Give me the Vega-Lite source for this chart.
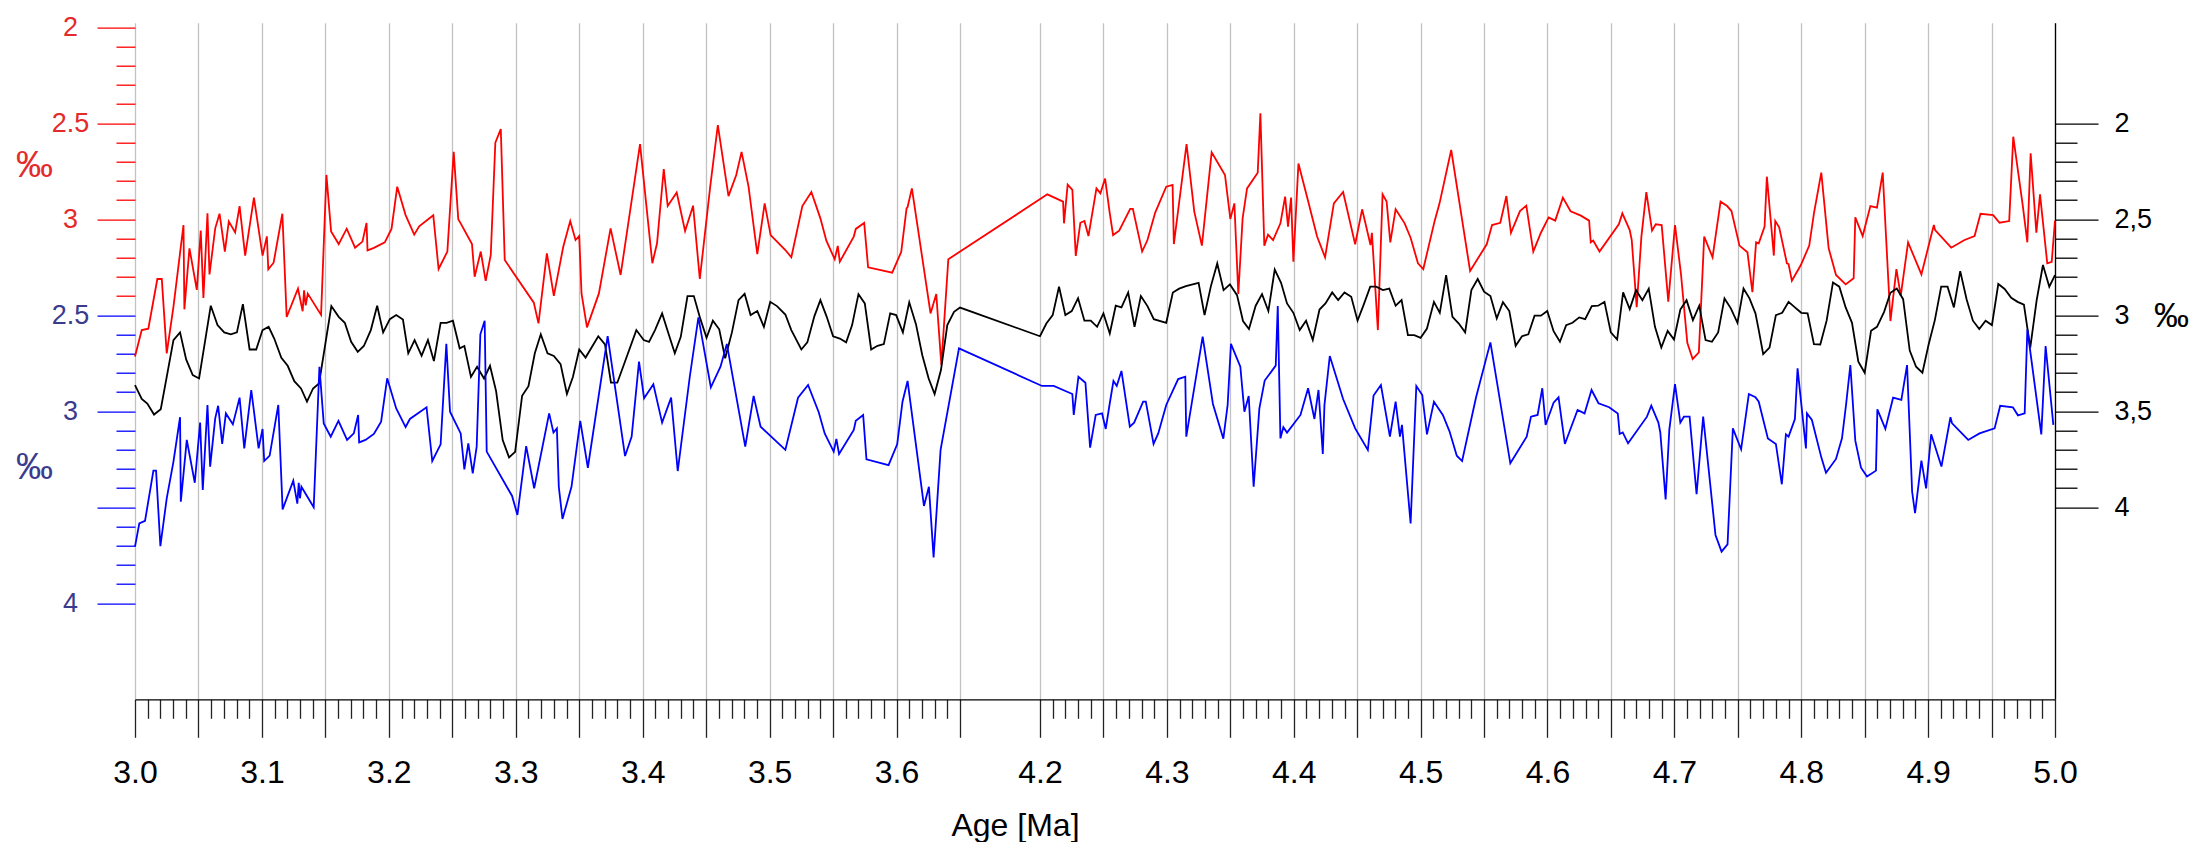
{
"$schema": "https://vega.github.io/schema/vega-lite/v6.json",
"width": 1920,
"height": 676.6,
"autosize": "none",
"padding": {"left": 135, "top": 22.7, "right": 142, "bottom": 142.7},
"background": "white",
"config": {"font": "Liberation Sans", "view": {"stroke": null}},
"datasets": {
"red": [
{"age":3.0000,"v":3.715},{"age":3.0053,"v":3.577},{"age":3.0105,"v":3.570},{"age":3.0176,"v":3.311},{"age":3.0211,"v":3.311},{"age":3.0250,"v":3.698},{"age":3.0303,"v":3.455},{"age":3.0382,"v":3.030},{"age":3.0389,"v":3.469},{"age":3.0429,"v":3.151},{"age":3.0487,"v":3.368},{"age":3.0518,"v":3.059},{"age":3.0539,"v":3.410},{"age":3.0571,"v":2.969},{"age":3.0587,"v":3.287},{"age":3.0632,"v":3.047},{"age":3.0666,"v":2.971},{"age":3.0708,"v":3.168},{"age":3.0739,"v":3.011},{"age":3.0789,"v":3.068},{"age":3.0824,"v":2.931},{"age":3.0868,"v":3.189},{"age":3.0937,"v":2.887},{"age":3.1005,"v":3.189},{"age":3.1039,"v":3.089},{"age":3.1050,"v":3.261},{"age":3.1092,"v":3.226},{"age":3.1161,"v":2.971},{"age":3.1195,"v":3.509},{"age":3.1284,"v":3.361},{"age":3.1321,"v":3.479},{"age":3.1332,"v":3.370},{"age":3.1345,"v":3.448},{"age":3.1361,"v":3.387},{"age":3.1466,"v":3.498},{"age":3.1508,"v":2.769},{"age":3.1545,"v":3.063},{"age":3.1605,"v":3.129},{"age":3.1668,"v":3.049},{"age":3.1734,"v":3.148},{"age":3.1792,"v":3.116},{"age":3.1824,"v":3.019},{"age":3.1832,"v":3.162},{"age":3.1882,"v":3.149},{"age":3.1968,"v":3.120},{"age":3.2021,"v":3.050},{"age":3.2066,"v":2.830},{"age":3.2132,"v":2.978},{"age":3.2200,"v":3.080},{"age":3.2239,"v":3.037},{"age":3.2350,"v":2.979},{"age":3.2392,"v":3.259},{"age":3.2461,"v":3.168},{"age":3.2511,"v":2.649},{"age":3.2547,"v":3.000},{"age":3.2566,"v":3.021},
{"age":3.2655,"v":3.129},{"age":3.2676,"v":3.299},{"age":3.2724,"v":3.168},{"age":3.2763,"v":3.321},{"age":3.2803,"v":3.186},{"age":3.2839,"v":2.601},{"age":3.2882,"v":2.530},{"age":3.2913,"v":3.212},{"age":3.3142,"v":3.434},{"age":3.3179,"v":3.542},{"age":3.3245,"v":3.177},{"age":3.3300,"v":3.399},{"age":3.3374,"v":3.143},{"age":3.3429,"v":3.009},{"age":3.3471,"v":3.108},{"age":3.3500,"v":3.087},{"age":3.3518,"v":3.386},{"age":3.3561,"v":3.563},{"age":3.3655,"v":3.386},{"age":3.3747,"v":3.047},{"age":3.3826,"v":3.290},{"age":3.3979,"v":2.608},{"age":3.4076,"v":3.229},{"age":3.4113,"v":3.125},{"age":3.4166,"v":2.738},{"age":3.4197,"v":2.931},{"age":3.4268,"v":2.861},{"age":3.4334,"v":3.061},{"age":3.4397,"v":2.929},{"age":3.4450,"v":3.311},{"age":3.4532,"v":2.830},{"age":3.4592,"v":2.509},{"age":3.4676,"v":2.879},{"age":3.4737,"v":2.769},{"age":3.4779,"v":2.649},{"age":3.4834,"v":2.830},{"age":3.4903,"v":3.181},{"age":3.4961,"v":2.917},{"age":3.5008,"v":3.082},{"age":3.5124,"v":3.160},
{"age":3.5171,"v":3.198},{"age":3.5258,"v":2.931},{"age":3.5329,"v":2.858},{"age":3.5400,"v":2.995},{"age":3.5447,"v":3.111},{"age":3.5513,"v":3.208},{"age":3.5537,"v":3.139},{"age":3.5553,"v":3.221},{"age":3.5663,"v":3.090},{"age":3.5679,"v":3.050},{"age":3.5745,"v":3.019},{"age":3.5776,"v":3.250},{"age":3.5966,"v":3.278},{"age":3.6037,"v":3.170},{"age":3.6079,"v":2.943},{"age":3.6087,"v":2.936},{"age":3.6121,"v":2.839},{"age":3.6268,"v":3.490},{"age":3.6313,"v":3.389},{"age":3.6353,"v":3.759},{"age":3.6408,"v":3.208},{"age":4.2058,"v":2.870},{"age":4.2182,"v":2.908},{"age":4.2189,"v":3.021},{"age":4.2218,"v":2.820},{"age":4.2255,"v":2.847},{"age":4.2282,"v":3.191},{"age":4.2318,"v":3.018},{"age":4.2350,"v":3.009},{"age":4.2382,"v":3.087},{"age":4.2445,"v":2.839},{"age":4.2476,"v":2.865},{"age":4.2513,"v":2.788},{"age":4.2550,"v":2.969},
{"age":4.2576,"v":3.082},{"age":4.2624,"v":3.059},{"age":4.2711,"v":2.946},{"age":4.2732,"v":2.946},{"age":4.2805,"v":3.168},{"age":4.2847,"v":3.108},{"age":4.2908,"v":2.965},{"age":4.2995,"v":2.830},{"age":4.3045,"v":2.821},{"age":4.3055,"v":3.129},{"age":4.3155,"v":2.608},{"age":4.3216,"v":2.960},{"age":4.3276,"v":3.137},{"age":4.3353,"v":2.651},{"age":4.3458,"v":2.769},{"age":4.3500,"v":2.998},{"age":4.3532,"v":2.917},{"age":4.3563,"v":3.389},{"age":4.3597,"v":2.995},{"age":4.3632,"v":2.839},{"age":4.3716,"v":2.757},{"age":4.3737,"v":2.448},{"age":4.3768,"v":3.137},{"age":4.3797,"v":3.080},{"age":4.3837,"v":3.108},{"age":4.3895,"v":3.021},{"age":4.3932,"v":2.882},{"age":4.3955,"v":3.038},{"age":4.3979,"v":2.887},{"age":4.3997,"v":3.221},{"age":4.4037,"v":2.709},{"age":4.4111,"v":2.899},{"age":4.4184,"v":3.090},{"age":4.4247,"v":3.198},{"age":4.4316,"v":2.917},{"age":4.4389,"v":2.858},{"age":4.4484,"v":3.130},{"age":4.4539,"v":2.948},{"age":4.4605,"v":3.134},{"age":4.4616,"v":3.070},{"age":4.4663,"v":3.577},{"age":4.4700,"v":2.870},{"age":4.4732,"v":2.908},{"age":4.4761,"v":3.120},{"age":4.4803,"v":2.948},{"age":4.4874,"v":3.021},{"age":4.4921,"v":3.096},{"age":4.4979,"v":3.229},{"age":4.5021,"v":3.259},{"age":4.5111,"v":3.007},
{"age":4.5149,"v":2.917},{"age":4.5241,"v":2.639},{"age":4.5390,"v":3.269},{"age":4.5521,"v":3.130},{"age":4.5563,"v":3.030},{"age":4.5628,"v":3.018},{"age":4.5676,"v":2.879},{"age":4.5712,"v":3.070},{"age":4.5783,"v":2.957},{"age":4.5833,"v":2.929},{"age":4.5888,"v":3.168},{"age":4.5948,"v":3.070},{"age":4.6009,"v":2.990},{"age":4.6061,"v":3.007},{"age":4.6121,"v":2.887},{"age":4.6182,"v":2.958},{"age":4.6263,"v":2.981},{"age":4.6328,"v":3.007},{"age":4.6341,"v":3.120},{"age":4.6360,"v":3.111},{"age":4.6410,"v":3.168},{"age":4.6562,"v":3.026},{"age":4.6590,"v":2.969},{"age":4.6648,"v":3.056},{"age":4.6664,"v":3.108},{"age":4.6703,"v":3.458},{"age":4.6740,"v":3.090},{"age":4.6779,"v":2.858},{"age":4.6824,"v":3.059},{"age":4.6853,"v":3.026},{"age":4.6900,"v":3.030},{"age":4.6952,"v":3.429},{"age":4.7005,"v":3.030},{"age":4.7052,"v":3.285},{"age":4.7102,"v":3.643},{"age":4.7144,"v":3.728},{"age":4.7193,"v":3.693},{"age":4.7235,"v":3.090},{"age":4.7301,"v":3.198},{"age":4.7364,"v":2.908},{"age":4.7416,"v":2.931},{"age":4.7450,"v":2.957},{"age":4.7513,"v":3.137},{"age":4.7576,"v":3.172},{"age":4.7615,"v":3.380},{"age":4.7644,"v":3.120},{"age":4.7665,"v":3.125},
{"age":4.7711,"v":3.038},{"age":4.7729,"v":2.778},{"age":4.7784,"v":3.189},{"age":4.7795,"v":3.009},{"age":4.7826,"v":3.042},{"age":4.7887,"v":3.229},{"age":4.7900,"v":3.233},{"age":4.7926,"v":3.320},{"age":4.7997,"v":3.238},{"age":4.8063,"v":3.137},{"age":4.8100,"v":2.969},{"age":4.8158,"v":2.757},{"age":4.8216,"v":3.151},{"age":4.8274,"v":3.290},{"age":4.8350,"v":3.339},{"age":4.8413,"v":3.307},{"age":4.8426,"v":2.990},{"age":4.8484,"v":3.087},{"age":4.8545,"v":2.931},{"age":4.8597,"v":2.939},{"age":4.8642,"v":2.757},{"age":4.8703,"v":3.530},{"age":4.8750,"v":3.259},{"age":4.8784,"v":3.399},{"age":4.8842,"v":3.120},{"age":4.8947,"v":3.287},{"age":4.9045,"v":3.030},{"age":4.9055,"v":3.056},{"age":4.9182,"v":3.148},{"age":4.9287,"v":3.108},{"age":4.9366,"v":3.087},{"age":4.9413,"v":2.971},{"age":4.9513,"v":2.978},{"age":4.9563,"v":3.018},{"age":4.9639,"v":3.009},{"age":4.9671,"v":2.570},{"age":4.9747,"v":2.934},{"age":4.9782,"v":3.120},{"age":4.9808,"v":2.656},{"age":4.9853,"v":3.070},{"age":4.9882,"v":2.870},{"age":4.9939,"v":3.229},{"age":4.9974,"v":3.221},{"age":5.0000,"v":3.007}
],
"blue": [
{"age":3.0000,"v":3.705},{"age":3.0034,"v":3.584},{"age":3.0079,"v":3.571},{"age":3.0145,"v":3.309},{"age":3.0166,"v":3.309},{"age":3.0200,"v":3.702},{"age":3.0250,"v":3.453},{"age":3.0303,"v":3.262},{"age":3.0355,"v":3.031},{"age":3.0361,"v":3.471},{"age":3.0408,"v":3.149},{"age":3.0471,"v":3.372},{"age":3.0513,"v":3.059},{"age":3.0534,"v":3.410},{"age":3.0571,"v":2.967},{"age":3.0592,"v":3.288},{"age":3.0632,"v":3.037},{"age":3.0655,"v":2.971},{"age":3.0687,"v":3.170},{"age":3.0716,"v":3.011},{"age":3.0771,"v":3.068},{"age":3.0824,"v":2.929},{"age":3.0861,"v":3.193},{"age":3.0916,"v":2.889},{"age":3.0974,"v":3.193},{"age":3.1005,"v":3.092},{"age":3.1018,"v":3.259},{"age":3.1061,"v":3.231},{"age":3.1129,"v":2.967},{"age":3.1163,"v":3.511},{"age":3.1247,"v":3.361},{"age":3.1279,"v":3.481},{"age":3.1290,"v":3.372},{"age":3.1300,"v":3.453},{"age":3.1311,"v":3.393},{"age":3.1408,"v":3.500},{"age":3.1453,"v":2.768},{"age":3.1487,"v":3.063},{"age":3.1542,"v":3.132},{"age":3.1603,"v":3.050},{"age":3.1671,"v":3.149},{"age":3.1724,"v":3.115},{"age":3.1758,"v":3.019},{"age":3.1766,"v":3.162},{"age":3.1816,"v":3.149},{"age":3.1882,"v":3.118},{"age":3.1939,"v":3.054},{"age":3.1987,"v":2.828},{"age":3.2058,"v":2.985},{"age":3.2132,"v":3.082},{"age":3.2166,"v":3.040},{"age":3.2297,"v":2.979},{"age":3.2342,"v":3.259},{"age":3.2408,"v":3.172},{"age":3.2453,"v":2.649},{"age":3.2482,"v":3.002},{"age":3.2566,"v":3.115},
{"age":3.2595,"v":3.302},{"age":3.2626,"v":3.167},{"age":3.2661,"v":3.323},{"age":3.2692,"v":3.184},{"age":3.2721,"v":2.599},{"age":3.2755,"v":2.528},{"age":3.2771,"v":3.210},{"age":3.2971,"v":3.441},{"age":3.3013,"v":3.540},{"age":3.3082,"v":3.181},{"age":3.3145,"v":3.401},{"age":3.3263,"v":3.011},{"age":3.3297,"v":3.111},{"age":3.3324,"v":3.089},{"age":3.3339,"v":3.393},{"age":3.3368,"v":3.561},{"age":3.3439,"v":3.393},{"age":3.3508,"v":3.050},{"age":3.3568,"v":3.294},{"age":3.3724,"v":2.608},{"age":3.3861,"v":3.233},{"age":3.3913,"v":3.132},{"age":3.3971,"v":2.741},{"age":3.4011,"v":2.932},{"age":3.4084,"v":2.859},{"age":3.4153,"v":3.059},{"age":3.4224,"v":2.929},{"age":3.4276,"v":3.311},{"age":3.4371,"v":2.820},{"age":3.4439,"v":2.511},{"age":3.4537,"v":2.875},{"age":3.4613,"v":2.768},{"age":3.4663,"v":2.649},{"age":3.4808,"v":3.184},{"age":3.4874,"v":2.920},{"age":3.4929,"v":3.080},{"age":3.5124,"v":3.201},
{"age":3.5224,"v":2.929},{"age":3.5303,"v":2.863},{"age":3.5387,"v":3.005},{"age":3.5434,"v":3.115},{"age":3.5505,"v":3.210},{"age":3.5526,"v":3.144},{"age":3.5547,"v":3.222},{"age":3.5663,"v":3.097},{"age":3.5679,"v":3.049},{"age":3.5737,"v":3.019},{"age":3.5763,"v":3.250},{"age":3.5937,"v":3.280},{"age":3.6005,"v":3.172},{"age":3.6047,"v":2.950},{"age":3.6087,"v":2.842},{"age":3.6216,"v":3.493},{"age":3.6255,"v":3.393},{"age":3.6292,"v":3.761},{"age":3.6347,"v":3.201},{"age":3.6492,"v":2.672},{"age":4.2016,"v":2.868},{"age":4.2108,"v":2.868},{"age":4.2255,"v":2.910},{"age":4.2266,"v":3.019},{"age":4.2303,"v":2.820},{"age":4.2358,"v":2.851},{"age":4.2395,"v":3.189},{"age":4.2439,"v":3.019},{"age":4.2489,"v":3.011},{"age":4.2518,"v":3.092},{"age":4.2550,"v":2.958},
{"age":4.2579,"v":2.842},{"age":4.2605,"v":2.868},{"age":4.2642,"v":2.790},{"age":4.2708,"v":3.080},{"age":4.2742,"v":3.059},{"age":4.2813,"v":2.950},{"age":4.2834,"v":2.950},{"age":4.2895,"v":3.170},{"age":4.2932,"v":3.115},{"age":4.2995,"v":2.967},{"age":4.3089,"v":2.832},{"age":4.3145,"v":2.820},{"age":4.3153,"v":3.132},{"age":4.3282,"v":2.611},{"age":4.3363,"v":2.962},{"age":4.3445,"v":3.143},{"age":4.3479,"v":2.967},{"age":4.3505,"v":2.649},{"age":4.3579,"v":2.768},{"age":4.3611,"v":3.002},{"age":4.3645,"v":2.920},{"age":4.3684,"v":3.393},{"age":4.3729,"v":2.985},{"age":4.3771,"v":2.840},{"age":4.3858,"v":2.762},{"age":4.3874,"v":2.452},{"age":4.3895,"v":3.141},{"age":4.3918,"v":3.083},{"age":4.3947,"v":3.111},{"age":4.4053,"v":3.019},{"age":4.4113,"v":2.880},{"age":4.4163,"v":3.040},{"age":4.4195,"v":2.889},{"age":4.4229,"v":3.222},{"age":4.4242,"v":2.967},{"age":4.4284,"v":2.712},{"age":4.4389,"v":2.936},{"age":4.4484,"v":3.089},{"age":4.4584,"v":3.201},{"age":4.4629,"v":2.918},{"age":4.4687,"v":2.863},{"age":4.4758,"v":3.132},{"age":4.4803,"v":2.950},{"age":4.4837,"v":3.132},{"age":4.4853,"v":3.071},{"age":4.4921,"v":3.584},{"age":4.4966,"v":2.868},{"age":4.5013,"v":2.915},{"age":4.5050,"v":3.120},{"age":4.5105,"v":2.950},
{"age":4.5175,"v":3.019},{"age":4.5227,"v":3.103},{"age":4.5285,"v":3.231},{"age":4.5327,"v":3.259},{"age":4.5437,"v":2.927},{"age":4.5550,"v":2.641},{"age":4.5707,"v":3.271},{"age":4.5836,"v":3.132},{"age":4.5870,"v":3.028},{"age":4.5922,"v":3.019},{"age":4.5959,"v":2.880},{"age":4.5985,"v":3.071},{"age":4.6048,"v":2.955},{"age":4.6087,"v":2.927},{"age":4.6137,"v":3.170},{"age":4.6237,"v":2.993},{"age":4.6292,"v":3.011},{"age":4.6347,"v":2.889},{"age":4.6402,"v":2.958},{"age":4.6486,"v":2.979},{"age":4.6554,"v":3.011},{"age":4.6569,"v":3.118},{"age":4.6593,"v":3.110},{"age":4.6635,"v":3.167},{"age":4.6784,"v":3.028},{"age":4.6818,"v":2.971},{"age":4.6874,"v":3.059},{"age":4.6889,"v":3.110},{"age":4.6931,"v":3.459},{"age":4.6960,"v":3.097},{"age":4.7005,"v":2.858},{"age":4.7047,"v":3.059},{"age":4.7075,"v":3.028},{"age":4.7120,"v":3.028},{"age":4.7175,"v":3.432},{"age":4.7227,"v":3.028},{"age":4.7324,"v":3.644},{"age":4.7372,"v":3.731},{"age":4.7419,"v":3.693},{"age":4.7461,"v":3.089},{"age":4.7526,"v":3.198},{"age":4.7587,"v":2.910},{"age":4.7639,"v":2.927},{"age":4.7665,"v":2.950},
{"age":4.7737,"v":3.141},{"age":4.7800,"v":3.170},{"age":4.7847,"v":3.380},{"age":4.7879,"v":3.120},{"age":4.7900,"v":3.132},{"age":4.7950,"v":3.040},{"age":4.7971,"v":2.776},{"age":4.8037,"v":3.193},{"age":4.8045,"v":3.011},{"age":4.8084,"v":3.045},{"age":4.8158,"v":3.240},{"age":4.8195,"v":3.320},{"age":4.8274,"v":3.248},{"age":4.8321,"v":3.141},{"age":4.8353,"v":2.967},{"age":4.8387,"v":2.759},{"age":4.8426,"v":3.153},{"age":4.8471,"v":3.294},{"age":4.8518,"v":3.340},{"age":4.8589,"v":3.309},{"age":4.8600,"v":2.990},{"age":4.8663,"v":3.092},{"age":4.8724,"v":2.929},{"age":4.8789,"v":2.941},{"age":4.8834,"v":2.759},{"age":4.8874,"v":3.419},{"age":4.8897,"v":3.531},{"age":4.8947,"v":3.257},{"age":4.8984,"v":3.401},{"age":4.9024,"v":3.120},{"age":4.9105,"v":3.288},{"age":4.9176,"v":3.031},{"age":4.9189,"v":3.063},{"age":4.9316,"v":3.149},{"age":4.9405,"v":3.115},{"age":4.9524,"v":3.089},{"age":4.9568,"v":2.971},{"age":4.9668,"v":2.979},{"age":4.9708,"v":3.021},{"age":4.9761,"v":3.011},{"age":4.9782,"v":2.573},{"age":4.9892,"v":3.120},{"age":4.9926,"v":2.660},{"age":4.9987,"v":3.071}
],
"black": [
{"age":3.0000,"v":3.364},{"age":3.0053,"v":3.436},{"age":3.0097,"v":3.460},{"age":3.0150,"v":3.517},{"age":3.0203,"v":3.489},{"age":3.0250,"v":3.321},{"age":3.0303,"v":3.129},{"age":3.0355,"v":3.089},{"age":3.0403,"v":3.230},{"age":3.0455,"v":3.311},{"age":3.0505,"v":3.329},{"age":3.0597,"v":2.950},{"age":3.0650,"v":3.051},{"age":3.0703,"v":3.089},{"age":3.0755,"v":3.099},{"age":3.0803,"v":3.089},{"age":3.0850,"v":2.942},{"age":3.0903,"v":3.178},{"age":3.0955,"v":3.178},{"age":3.1005,"v":3.077},{"age":3.1053,"v":3.060},{"age":3.1097,"v":3.121},{"age":3.1153,"v":3.222},{"age":3.1203,"v":3.263},{"age":3.1255,"v":3.343},{"age":3.1308,"v":3.381},{"age":3.1355,"v":3.450},{"age":3.1403,"v":3.381},{"age":3.1450,"v":3.355},{"age":3.1547,"v":2.952},{"age":3.1605,"v":3.008},{"age":3.1653,"v":3.039},{"age":3.1703,"v":3.138},{"age":3.1755,"v":3.190},{"age":3.1803,"v":3.160},{"age":3.1858,"v":3.077},{"age":3.1908,"v":2.950},{"age":3.1955,"v":3.089},{"age":3.2008,"v":3.020},{"age":3.2058,"v":2.999},{"age":3.2111,"v":3.022},{"age":3.2153,"v":3.198},{"age":3.2203,"v":3.129},{"age":3.2258,"v":3.210},{"age":3.2308,"v":3.129},{"age":3.2355,"v":3.238},{"age":3.2408,"v":3.039},{"age":3.2455,"v":3.039},{"age":3.2505,"v":3.028},{"age":3.2558,"v":3.172},
{"age":3.2595,"v":3.160},{"age":3.2647,"v":3.321},{"age":3.2695,"v":3.268},{"age":3.2750,"v":3.329},{"age":3.2797,"v":3.263},{"age":3.2845,"v":3.395},{"age":3.2897,"v":3.650},{"age":3.2947,"v":3.740},{"age":3.2995,"v":3.711},{"age":3.3050,"v":3.419},{"age":3.3100,"v":3.369},{"age":3.3150,"v":3.198},{"age":3.3197,"v":3.099},{"age":3.3250,"v":3.198},{"age":3.3300,"v":3.212},{"age":3.3353,"v":3.254},{"age":3.3403,"v":3.410},{"age":3.3450,"v":3.321},{"age":3.3500,"v":3.178},{"age":3.3550,"v":3.220},{"age":3.3650,"v":3.109},{"age":3.3703,"v":3.152},{"age":3.3750,"v":3.351},{"age":3.3800,"v":3.351},{"age":3.3850,"v":3.260},{"age":3.3950,"v":3.077},{"age":3.4008,"v":3.129},{"age":3.4050,"v":3.138},{"age":3.4097,"v":3.077},{"age":3.4153,"v":2.990},{"age":3.4203,"v":3.095},{"age":3.4253,"v":3.198},{"age":3.4300,"v":3.112},{"age":3.4353,"v":2.900},{"age":3.4403,"v":2.900},{"age":3.4453,"v":3.016},{"age":3.4503,"v":3.117},{"age":3.4553,"v":3.028},{"age":3.4603,"v":3.073},{"age":3.4650,"v":3.224},{"age":3.4703,"v":3.089},{"age":3.4755,"v":2.921},{"age":3.4803,"v":2.888},{"age":3.4850,"v":2.999},{"age":3.4903,"v":2.978},{"age":3.4955,"v":3.060},{"age":3.5005,"v":2.930},{"age":3.5058,"v":2.952},{"age":3.5124,"v":2.996},
{"age":3.5171,"v":3.077},{"age":3.5250,"v":3.178},{"age":3.5297,"v":3.141},{"age":3.5353,"v":3.004},{"age":3.5400,"v":2.921},{"age":3.5450,"v":3.008},{"age":3.5500,"v":3.109},{"age":3.5553,"v":3.121},{"age":3.5603,"v":3.141},{"age":3.5650,"v":3.051},{"age":3.5700,"v":2.890},{"age":3.5750,"v":2.938},{"age":3.5800,"v":3.178},{"age":3.5850,"v":3.159},{"age":3.5900,"v":3.150},{"age":3.5950,"v":2.990},{"age":3.5997,"v":2.999},{"age":3.6050,"v":3.089},{"age":3.6100,"v":2.932},{"age":3.6153,"v":3.046},{"age":3.6203,"v":3.208},{"age":3.6253,"v":3.329},{"age":3.6300,"v":3.410},{"age":3.6350,"v":3.285},{"age":3.6400,"v":3.051},{"age":3.6453,"v":2.982},{"age":3.6503,"v":2.960},{"age":4.2000,"v":3.109},{"age":4.2050,"v":3.043},{"age":4.2100,"v":2.999},{"age":4.2150,"v":2.851},{"age":4.2200,"v":2.999},{"age":4.2250,"v":2.978},{"age":4.2300,"v":2.911},{"age":4.2350,"v":3.028},{"age":4.2400,"v":3.028},{"age":4.2450,"v":3.060},{"age":4.2500,"v":2.990},{"age":4.2550,"v":3.095},
{"age":4.2597,"v":2.950},{"age":4.2642,"v":2.959},{"age":4.2695,"v":2.881},{"age":4.2745,"v":3.060},{"age":4.2795,"v":2.900},{"age":4.2847,"v":2.952},{"age":4.2897,"v":3.020},{"age":4.2995,"v":3.039},{"age":4.3047,"v":2.881},{"age":4.3097,"v":2.861},{"age":4.3150,"v":2.848},{"age":4.3250,"v":2.831},{"age":4.3297,"v":2.999},{"age":4.3347,"v":2.848},{"age":4.3397,"v":2.730},{"age":4.3447,"v":2.869},{"age":4.3497,"v":2.839},{"age":4.3553,"v":2.895},{"age":4.3600,"v":3.030},{"age":4.3647,"v":3.071},{"age":4.3700,"v":2.950},{"age":4.3750,"v":2.890},{"age":4.3800,"v":2.978},{"age":4.3850,"v":2.762},{"age":4.3900,"v":2.831},{"age":4.3947,"v":2.938},{"age":4.3997,"v":2.987},{"age":4.4047,"v":3.077},{"age":4.4097,"v":3.028},{"age":4.4150,"v":3.129},{"age":4.4203,"v":2.970},{"age":4.4250,"v":2.938},{"age":4.4303,"v":2.881},{"age":4.4350,"v":2.921},{"age":4.4400,"v":2.881},{"age":4.4453,"v":2.904},{"age":4.4503,"v":3.028},{"age":4.4550,"v":2.947},{"age":4.4603,"v":2.851},{"age":4.4650,"v":2.851},{"age":4.4703,"v":2.869},{"age":4.4753,"v":2.861},{"age":4.4803,"v":2.950},{"age":4.4850,"v":2.921},{"age":4.4900,"v":3.103},{"age":4.4950,"v":3.103},{"age":4.5000,"v":3.117},{"age":4.5050,"v":3.069},{"age":4.5105,"v":2.930},
{"age":4.5151,"v":2.987},{"age":4.5201,"v":2.791},{"age":4.5251,"v":3.008},{"age":4.5301,"v":3.043},{"age":4.5351,"v":3.089},{"age":4.5400,"v":2.869},{"age":4.5450,"v":2.811},{"age":4.5500,"v":2.877},{"age":4.5550,"v":2.900},{"age":4.5600,"v":3.016},{"age":4.5649,"v":2.932},{"age":4.5699,"v":2.978},{"age":4.5749,"v":3.159},{"age":4.5799,"v":3.109},{"age":4.5849,"v":3.099},{"age":4.5898,"v":3.002},{"age":4.5948,"v":3.002},{"age":4.5998,"v":2.978},{"age":4.6048,"v":3.083},{"age":4.6098,"v":3.138},{"age":4.6147,"v":3.051},{"age":4.6197,"v":3.039},{"age":4.6250,"v":3.011},{"age":4.6297,"v":3.020},{"age":4.6349,"v":2.952},{"age":4.6399,"v":2.950},{"age":4.6449,"v":2.930},{"age":4.6499,"v":3.089},{"age":4.6549,"v":3.126},{"age":4.6596,"v":2.881},{"age":4.6648,"v":2.968},{"age":4.6698,"v":2.869},{"age":4.6748,"v":2.921},{"age":4.6798,"v":2.861},{"age":4.6847,"v":3.060},{"age":4.6897,"v":3.168},{"age":4.6947,"v":3.081},{"age":4.6997,"v":3.126},{"age":4.7047,"v":2.970},{"age":4.7096,"v":2.921},{"age":4.7146,"v":3.025},{"age":4.7196,"v":2.950},{"age":4.7246,"v":3.129},{"age":4.7296,"v":3.138},{"age":4.7345,"v":3.089},{"age":4.7395,"v":2.912},{"age":4.7445,"v":2.964},{"age":4.7497,"v":3.039},{"age":4.7545,"v":2.861},{"age":4.7592,"v":2.912},{"age":4.7639,"v":2.990},{"age":4.7665,"v":3.077},
{"age":4.7700,"v":3.202},{"age":4.7750,"v":3.168},{"age":4.7800,"v":2.999},{"age":4.7850,"v":2.987},{"age":4.7900,"v":2.930},{"age":4.7950,"v":2.959},{"age":4.8000,"v":2.987},{"age":4.8050,"v":2.990},{"age":4.8100,"v":3.150},{"age":4.8150,"v":3.152},{"age":4.8200,"v":3.028},{"age":4.8250,"v":2.829},{"age":4.8300,"v":2.851},{"age":4.8350,"v":2.959},{"age":4.8400,"v":3.039},{"age":4.8450,"v":3.242},{"age":4.8500,"v":3.299},{"age":4.8550,"v":3.081},{"age":4.8597,"v":3.060},{"age":4.8653,"v":2.982},{"age":4.8703,"v":2.883},{"age":4.8753,"v":2.861},{"age":4.8803,"v":2.916},{"age":4.8855,"v":3.184},{"age":4.8905,"v":3.268},{"age":4.8955,"v":3.299},{"age":4.9003,"v":3.155},{"age":4.9053,"v":3.025},{"age":4.9103,"v":2.851},{"age":4.9153,"v":2.851},{"age":4.9203,"v":2.959},{"age":4.9253,"v":2.770},{"age":4.9303,"v":2.916},{"age":4.9353,"v":3.028},{"age":4.9403,"v":3.072},{"age":4.9453,"v":3.028},{"age":4.9503,"v":3.051},{"age":4.9553,"v":2.837},{"age":4.9603,"v":2.863},{"age":4.9655,"v":2.909},{"age":4.9705,"v":2.930},{"age":4.9755,"v":2.944},{"age":4.9805,"v":3.168},{"age":4.9855,"v":2.924},{"age":4.9905,"v":2.738},{"age":4.9955,"v":2.851},{"age":5.0000,"v":2.791}
]
},
"encoding": {
"x": {"field": "age", "type": "quantitative",
 "scale": {"domain": [3, 3.65, 4.2, 5], "range": [0, 825, 905, 1920], "nice": false, "zero": false},
 "axis": {
  "title": "Age [Ma]", "titleFontSize": 32, "titleFontWeight": "normal", "titleColor": "black",
  "titleX": 880, "titleY": 136, "titleAlign": "center", "titleBaseline": "alphabetic",
  "tickCount": 1000,
  "values": [3,3.01,3.02,3.03,3.04,3.05,3.06,3.07,3.08,3.09,3.1,3.11,3.12,3.13,3.14,3.15,3.16,3.17,3.18,3.19,3.2,3.21,3.22,3.23,3.24,3.25,3.26,3.27,3.28,3.29,3.3,3.31,3.32,3.33,3.34,3.35,3.36,3.37,3.38,3.39,3.4,3.41,3.42,3.43,3.44,3.45,3.46,3.47,3.48,3.49,3.5,3.51,3.52,3.53,3.54,3.55,3.56,3.57,3.58,3.59,3.6,3.61,3.62,3.63,3.64,3.65,4.2,4.21,4.22,4.23,4.24,4.25,4.26,4.27,4.28,4.29,4.3,4.31,4.32,4.33,4.34,4.35,4.36,4.37,4.38,4.39,4.4,4.41,4.42,4.43,4.44,4.45,4.46,4.47,4.48,4.49,4.5,4.51,4.52,4.53,4.54,4.55,4.56,4.57,4.58,4.59,4.6,4.61,4.62,4.63,4.64,4.65,4.66,4.67,4.68,4.69,4.7,4.71,4.72,4.73,4.74,4.75,4.76,4.77,4.78,4.79,4.8,4.81,4.82,4.83,4.84,4.85,4.86,4.87,4.88,4.89,4.9,4.91,4.92,4.93,4.94,4.95,4.96,4.97,4.98,4.99,5],
  "domainColor": "black", "domainWidth": 1.3,
  "tickColor": "#222222", "tickWidth": 1.3,
  "tickSize": {"condition": {"test": "abs(datum.value*20 - round(datum.value*20)) < 0.001", "value": 38}, "value": 19},
  "grid": true, "gridColor": "#c2c2c2", "gridWidth": 1.3,
  "gridOpacity": {"condition": {"test": "abs(datum.value*20 - round(datum.value*20)) < 0.001", "value": 1}, "value": 0},
  "labelExpr": "abs(datum.value*10 - round(datum.value*10)) < 0.001 ? format(datum.value, '.1f') : ''",
  "labelFontSize": 32, "labelColor": "black", "labelPadding": 20, "labelBaseline": "top",
  "labelOverlap": false, "labelFlush": false, "labelBound": false
 }
}
},
"layer": [
{
 "data": {"name": "red"},
 "layer": [
  {"mark": {"type": "line", "color": "#ff0000", "strokeWidth": 1.8},
   "encoding": {"y": {"field": "v", "type": "quantitative",
    "scale": {"domain": [1.97604, 5.5], "reverse": true, "nice": false, "zero": false},
    "axis": {"orient": "left", "offset": 0, "domain": false, "grid": false, "tickCount": 1000,
     "values": [2,2.1,2.2,2.3,2.4,2.5,2.6,2.7,2.8,2.9,3,3.1,3.2,3.3,3.4],
     "tickColor": "#ff0000", "tickWidth": 1.3,
     "tickSize": {"condition": {"test": "abs(datum.value*2 - round(datum.value*2)) < 0.001", "value": 38}, "value": 19},
     "labelExpr": "abs(datum.value*2 - round(datum.value*2)) < 0.001 ? format(datum.value, '~g') : ''",
     "labelColor": "#e32b2b", "labelFontSize": 27, "labelAlign": "center", "labelBaseline": "middle", "labelPadding": 27,
     "labelOverlap": false, "labelFlush": false, "labelBound": false,
     "title": "‰", "titleColor": "#e32b2b", "titleFontSize": 37, "titleFontWeight": "normal", "titleAngle": 0,
     "titleX": -101, "titleY": 142.3, "titleAlign": "center", "titleBaseline": "middle"}}}},
  {"data": {"values": [{}]}, "mark": {"type": "rule", "color": "#ff0000", "strokeWidth": 1.3},
   "encoding": {"x": {"datum": 3}, "y": {"datum": 2}, "y2": {"datum": 3.5}}}
 ]
},
{
 "data": {"name": "black"},
 "layer": [
  {"mark": {"type": "line", "color": "#000000", "strokeWidth": 1.8},
   "encoding": {"y": {"field": "v", "type": "quantitative",
    "scale": {"domain": [1.47604, 5.0], "reverse": true, "nice": false, "zero": false},
    "axis": {"orient": "right", "offset": 0, "domain": true, "domainColor": "black", "domainWidth": 1.3, "grid": false, "tickCount": 1000,
     "values": [2,2.1,2.2,2.3,2.4,2.5,2.6,2.7,2.8,2.9,3,3.1,3.2,3.3,3.4,3.5,3.6,3.7,3.8,3.9,4],
     "tickColor": "black", "tickWidth": 1.3,
     "tickSize": {"condition": {"test": "abs(datum.value*2 - round(datum.value*2)) < 0.001", "value": 43}, "value": 22},
     "labelExpr": "abs(datum.value*2 - round(datum.value*2)) < 0.001 ? replace(format(datum.value, '~g'), '.', ',') : ''",
     "labelColor": "black", "labelFontSize": 27, "labelAlign": "left", "labelBaseline": "middle", "labelPadding": 16,
     "labelOverlap": false, "labelFlush": false, "labelBound": false,
     "title": "‰", "titleColor": "black", "titleFontSize": 35, "titleFontWeight": "normal", "titleAngle": 0,
     "titleX": 116, "titleY": 292.7, "titleAlign": "center", "titleBaseline": "middle"}}}},
  {"data": {"values": [{}]}, "mark": {"type": "rule", "color": "black", "strokeWidth": 1.3},
   "encoding": {"x": {"datum": 5}, "y": {"datum": 1.3891}, "y2": {"datum": 1.47604}}},
  {"data": {"values": [{}]}, "mark": {"type": "rule", "color": "#222222", "strokeWidth": 1.3},
   "encoding": {"x": {"datum": 3.7236}, "x2": {"datum": 3.9477}, "y": {"datum": 4.8734}, "y2": {"datum": 5.125}}},
  {"data": {"values": [{}]}, "mark": {"type": "rule", "color": "#222222", "strokeWidth": 1.3},
   "encoding": {"x": {"datum": 3.9064}, "x2": {"datum": 4.1313}, "y": {"datum": 4.8734}, "y2": {"datum": 5.125}}}
 ]
},
{
 "data": {"name": "blue"},
 "layer": [
  {"mark": {"type": "line", "color": "#0000ff", "strokeWidth": 1.8},
   "encoding": {"y": {"field": "v", "type": "quantitative",
    "scale": {"domain": [0.97604, 4.5], "reverse": true, "nice": false, "zero": false},
    "axis": {"orient": "left", "offset": 0, "domain": false, "grid": false, "tickCount": 1000,
     "values": [2.5,2.6,2.7,2.8,2.9,3,3.1,3.2,3.3,3.4,3.5,3.6,3.7,3.8,3.9,4],
     "tickColor": "#0000ff", "tickWidth": 1.3,
     "tickSize": {"condition": {"test": "abs(datum.value*2 - round(datum.value*2)) < 0.001", "value": 38}, "value": 19},
     "labelExpr": "(abs(datum.value - 2.5) < 0.001 || abs(datum.value - 3) < 0.001 || abs(datum.value - 4) < 0.001) ? format(datum.value, '~g') : ''",
     "labelColor": "#3b3b8e", "labelFontSize": 27, "labelAlign": "center", "labelBaseline": "middle", "labelPadding": 27,
     "labelOverlap": false, "labelFlush": false, "labelBound": false,
     "title": "‰", "titleColor": "#3b3b8e", "titleFontSize": 37, "titleFontWeight": "normal", "titleAngle": 0,
     "titleX": -101, "titleY": 444.3, "titleAlign": "center", "titleBaseline": "middle"}}}},
  {"data": {"values": [{}]}, "mark": {"type": "rule", "color": "#0000ff", "strokeWidth": 1.3},
   "encoding": {"x": {"datum": 3}, "y": {"datum": 2.5}, "y2": {"datum": 4}}}
 ]
}
],
"resolve": {"scale": {"y": "independent"}, "axis": {"y": "independent"}}
}
